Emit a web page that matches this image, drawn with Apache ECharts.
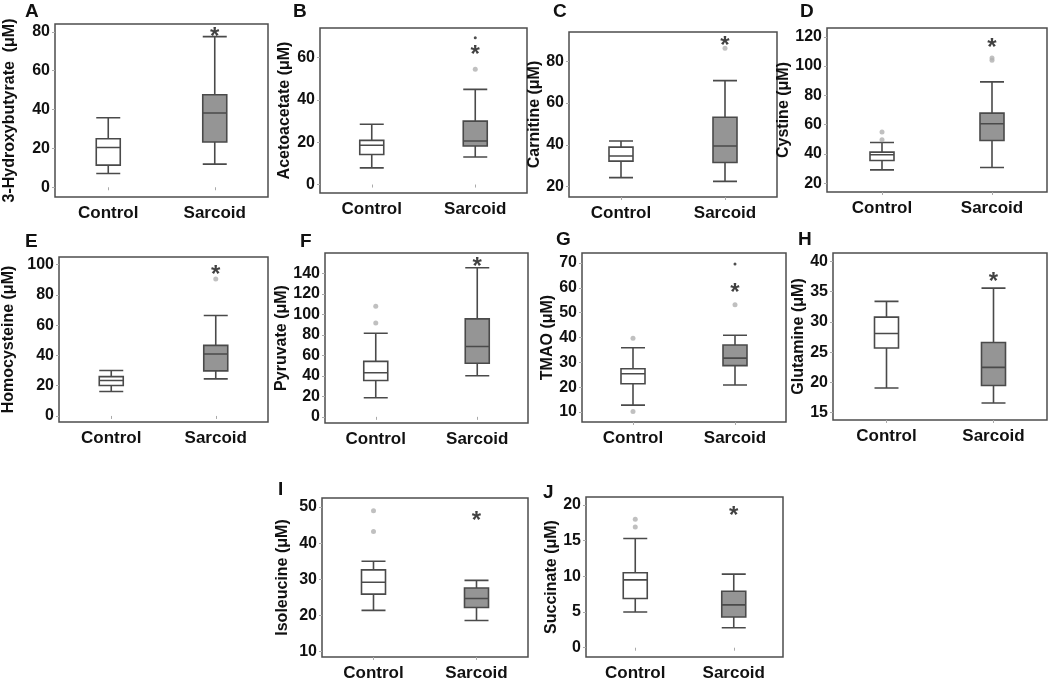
<!DOCTYPE html>
<html>
<head>
<meta charset="utf-8">
<script src="https://cdn.jsdelivr.net/npm/echarts@6/dist/echarts.min.js"></script>
<style>
html,body{margin:0;padding:0;background:#fff;}
#chart{width:1050px;height:682px;}
</style>
</head>
<body>
<div id="chart"></div>
<script>
// ---------------- DATA ----------------
const categories = ['Control', 'Sarcoid'];
const panelLetters = ['A', 'B', 'C', 'D', 'E', 'F', 'G', 'H', 'I', 'J'];
const yNames = [
  '3-Hydroxybutyrate  (\u03bcM)', 'Acetoacetate (\u03bcM)', 'Carnitine (\u03bcM)', 'Cystine (\u03bcM)',
  'Homocysteine (\u03bcM)', 'Pyruvate (\u03bcM)', 'TMAO (\u03bcM)', 'Glutamine (\u03bcM)',
  'Isoleucine (\u03bcM)', 'Succinate (\u03bcM)'
];
// [min, Q1, median, Q3, max]
const controlBox = [
  [7.1, 11.4, 20.5, 25.0, 35.8],
  [7.9, 14.2, 18.6, 20.9, 28.5],
  [24.3, 32.2, 34.6, 38.9, 41.8],
  [29.1, 35.5, 39.4, 41.2, 47.8],
  [16.1, 20.1, 23.4, 26.0, 30.0],
  [18.7, 35.5, 43.1, 54.2, 81.6],
  [12.8, 21.4, 25.4, 27.4, 35.9],
  [19.1, 25.7, 28.1, 30.8, 33.4],
  [21.4, 25.9, 29.2, 32.6, 35.0],
  [5.0, 6.9, 9.5, 10.5, 15.3]
];
const sarcoidBox = [
  [11.9, 23.3, 38.2, 47.6, 77.5],
  [13.0, 18.2, 20.6, 30.0, 45.0],
  [22.5, 31.5, 39.4, 53.2, 70.7],
  [30.7, 49.2, 60.6, 67.9, 89.2],
  [24.5, 29.8, 40.9, 46.6, 66.4],
  [40.1, 52.3, 68.7, 95.7, 145.6],
  [20.9, 28.7, 31.7, 37.0, 40.9],
  [16.6, 19.5, 22.5, 26.6, 35.6],
  [18.6, 22.2, 24.7, 27.6, 29.7],
  [2.8, 4.3, 6.0, 7.9, 10.3]
];
const controlOutliers = [[], [], [], [49.7, 54.9], [], [91.7, 108], [10.2, 39.7], [], [43.2, 49.0], [16.9, 18.0]];
const sarcoidOutliers = [[], [54.5], [86.2], [104.0, 105.5], [90.5], [], [53.2], [], [], []];
const sarcoidExtremes = [[], [69.4], [], [], [], [], [69.6], [], [], []];
const starValues = [80, 64, 90, 116, 97, 152, 60, 37.6, 47.7, 19.2];
const yMins = [-5, -4, 15, 14, -4, -6, 6, 13.8, 8.5, -1.3];
const yMaxs = [84, 74, 94, 126, 105, 160, 74, 41.4, 52.5, 21.1];
const yTicks = [
  [0, 20, 40, 60, 80],
  [0, 20, 40, 60],
  [20, 40, 60, 80],
  [20, 40, 60, 80, 100, 120],
  [0, 20, 40, 60, 80, 100],
  [0, 20, 40, 60, 80, 100, 120, 140],
  [10, 20, 30, 40, 50, 60, 70],
  [15, 20, 25, 30, 35, 40],
  [10, 20, 30, 40, 50],
  [0, 5, 10, 15, 20]
];

// ---------------- LAYOUT ----------------
// [left, top, right, bottom] of each plot frame in px
const frames = [
  [55, 24, 268, 197], [320, 28, 527, 193], [569, 32, 777, 197], [827, 28, 1047, 192],
  [57, 257, 268, 422], [325, 253, 528, 423], [582, 253, 786, 422], [833, 253, 1047, 420],
  [322, 498, 528, 663], [586, 497, 783, 662]
];
const nameGaps = [37, 27, 23, 31, 42, 32, 24, 22, 31, 25];
const letterPos = [
  [32, 12], [300, 12], [560, 12], [807, 12],
  [32, 242], [307, 242], [563, 240], [805, 240],
  [285, 490], [550, 493]
];

const FONT = 'Arial, "Liberation Sans", Helvetica, sans-serif';
const grid = [], xAxis = [], yAxis = [], series = [], graphic = [];

for (let i = 0; i < frames.length; i++) {
  const [l, t, r, b] = frames[i];
  grid.push({left: l, top: t, width: r - l, height: b - t, show: true,
    borderColor: '#4d4d4d', borderWidth: 1.5, backgroundColor: '#fff', containLabel: false});
  xAxis.push({
    type: 'category', gridIndex: i, data: categories,
    axisLine: {show: false},
    axisTick: {show: true, alignWithLabel: true, length: 3, lineStyle: {color: '#aaa'}},
    axisLabel: {color: '#111', fontWeight: 'bold', fontSize: 17, fontFamily: FONT, margin: 8},
    splitLine: {show: false}
  });
  yAxis.push({
    type: 'value', gridIndex: i, min: yMins[i], max: yMaxs[i],
    name: yNames[i], nameLocation: 'middle', nameGap: nameGaps[i], nameRotate: 90,
    nameTextStyle: {color: '#111', fontWeight: 'bold', fontSize: 16, fontFamily: FONT},
    axisLine: {show: false},
    axisTick: {show: true, length: 3, lineStyle: {color: '#aaa'}, customValues: yTicks[i]},
    axisLabel: {color: '#111', fontWeight: 'bold', fontSize: 16, fontFamily: FONT, margin: 5,
      customValues: yTicks[i]},
    splitLine: {show: false}
  });
  series.push({
    type: 'boxplot', xAxisIndex: i, yAxisIndex: i, boxWidth: [24, 24],
    silent: true,
    itemStyle: {borderColor: '#4a4a4a', borderWidth: 1.6},
    data: [
      {value: controlBox[i], itemStyle: {color: '#ffffff'}},
      {value: sarcoidBox[i], itemStyle: {color: '#959595'}}
    ]
  });
  const outl = controlOutliers[i].map(v => [categories[0], v])
    .concat(sarcoidOutliers[i].map(v => [categories[1], v]));
  series.push({
    type: 'scatter', xAxisIndex: i, yAxisIndex: i, symbol: 'circle', symbolSize: 5,
    silent: true, itemStyle: {color: '#b0b0b0'}, data: outl
  });
  series.push({
    type: 'scatter', xAxisIndex: i, yAxisIndex: i, symbol: 'circle', symbolSize: 3,
    silent: true, itemStyle: {color: '#222'}, data: sarcoidExtremes[i].map(v => [categories[1], v])
  });
  series.push({
    type: 'scatter', xAxisIndex: i, yAxisIndex: i, symbolSize: 0, silent: true,
    label: {show: true, position: 'inside', formatter: '*', color: '#111', fontSize: 24,
      fontWeight: 'bold', fontFamily: FONT, offset: [0, 6]},
    data: [[categories[1], starValues[i]]]
  });
  graphic.push({
    type: 'text', left: letterPos[i][0] - 7, top: letterPos[i][1] - 10,
    style: {text: panelLetters[i], fill: '#111', font: 'bold 19px ' + FONT}
  });
}

const chart = echarts.init(document.getElementById('chart'), null, {renderer: 'canvas'});
chart.setOption({
  animation: false,
  backgroundColor: '#fff',
  grid, xAxis, yAxis, series, graphic
});
</script>
</body>
</html>
